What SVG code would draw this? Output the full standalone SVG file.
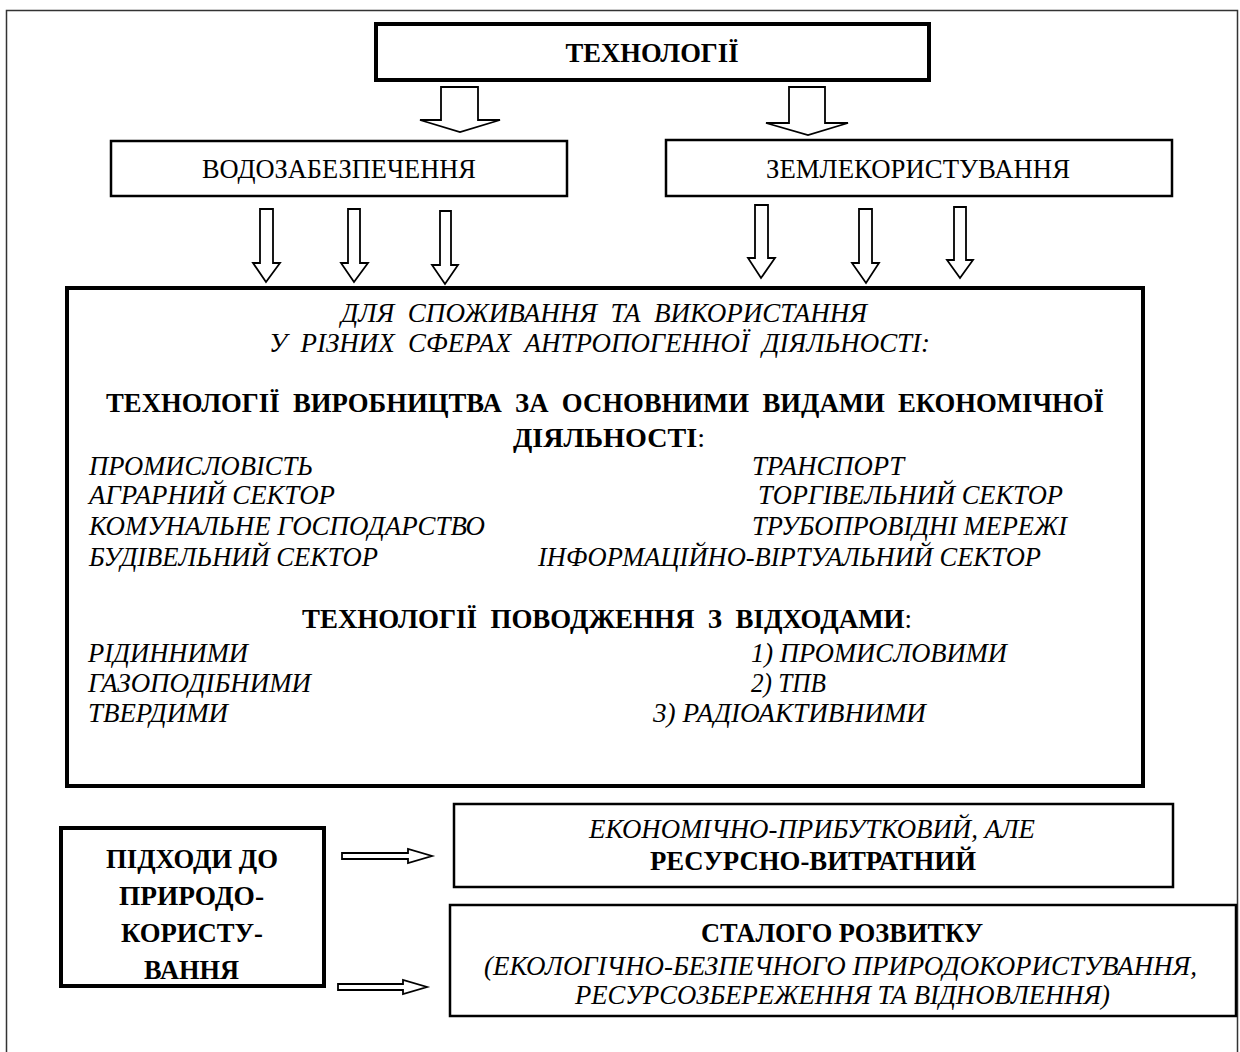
<svg xmlns="http://www.w3.org/2000/svg" width="1240" height="1052" viewBox="0 0 1240 1052">
<style>
text{font-family:"Liberation Serif","Times New Roman",serif;fill:#000;font-size:27px}
.b{font-weight:bold}
.i{font-style:italic}
.m{text-anchor:middle}
.thick{fill:#fff;stroke:#000;stroke-width:4}
.thin{fill:#fff;stroke:#000;stroke-width:2.5}
.arr{fill:#fff;stroke:#000;stroke-width:1.8;stroke-linejoin:miter}
</style>
<rect width="1240" height="1052" fill="#fff"/>
<path d="M6.5,1052 V10.5 H1237.5 V1052" fill="none" stroke="#333" stroke-width="1.5"/>
<g id="n-tech">
<rect class="thick" x="376" y="24" width="553" height="56"/>
<text class="b m" x="652" y="62" textLength="173" lengthAdjust="spacingAndGlyphs">ТЕХНОЛОГІЇ</text>
</g>
<g id="n-water">
<rect class="thin" x="111" y="141" width="456" height="55"/>
<text class="m" x="339" y="178" textLength="274" lengthAdjust="spacingAndGlyphs">ВОДОЗАБЕЗПЕЧЕННЯ</text>
</g>
<g id="n-land">
<rect class="thin" x="666" y="140" width="506" height="56"/>
<text class="m" x="918" y="178" textLength="304" lengthAdjust="spacingAndGlyphs">ЗЕМЛЕКОРИСТУВАННЯ</text>
</g>
<g id="n-main">
<rect class="thick" x="67" y="288" width="1076" height="498"/>
<text class="i m" x="604" y="322" xml:space="preserve" textLength="526" lengthAdjust="spacingAndGlyphs">ДЛЯ  СПОЖИВАННЯ  ТА  ВИКОРИСТАННЯ</text>
<text class="i" x="269" y="352" xml:space="preserve" textLength="661" lengthAdjust="spacingAndGlyphs">У  РІЗНИХ  СФЕРАХ  АНТРОПОГЕННОЇ  ДІЯЛЬНОСТІ:</text>
<text class="b" x="106" y="412" xml:space="preserve" textLength="998" lengthAdjust="spacingAndGlyphs">ТЕХНОЛОГІЇ  ВИРОБНИЦТВА  ЗА  ОСНОВНИМИ  ВИДАМИ  ЕКОНОМІЧНОЇ</text>
<text x="513" y="447" textLength="192" lengthAdjust="spacingAndGlyphs"><tspan class="b">ДІЯЛЬНОСТІ</tspan>:</text>
<text class="i" x="89" y="475" textLength="224" lengthAdjust="spacingAndGlyphs">ПРОМИСЛОВІСТЬ</text>
<text class="i" x="89" y="504" textLength="246" lengthAdjust="spacingAndGlyphs">АГРАРНИЙ СЕКТОР</text>
<text class="i" x="89" y="535" textLength="396" lengthAdjust="spacingAndGlyphs">КОМУНАЛЬНЕ ГОСПОДАРСТВО</text>
<text class="i" x="89" y="566" textLength="289" lengthAdjust="spacingAndGlyphs">БУДІВЕЛЬНИЙ СЕКТОР</text>
<text class="i" x="752" y="475" textLength="152" lengthAdjust="spacingAndGlyphs">ТРАНСПОРТ</text>
<text class="i" x="758" y="504" textLength="305" lengthAdjust="spacingAndGlyphs">ТОРГІВЕЛЬНИЙ СЕКТОР</text>
<text class="i" x="752" y="535" textLength="315" lengthAdjust="spacingAndGlyphs">ТРУБОПРОВІДНІ МЕРЕЖІ</text>
<text class="i" x="538" y="566" textLength="503" lengthAdjust="spacingAndGlyphs">ІНФОРМАЦІЙНО-ВІРТУАЛЬНИЙ СЕКТОР</text>
<text x="302" y="628" xml:space="preserve" textLength="610" lengthAdjust="spacingAndGlyphs"><tspan class="b">ТЕХНОЛОГІЇ  ПОВОДЖЕННЯ  З  ВІДХОДАМИ</tspan>:</text>
<text class="i" x="88" y="662" textLength="160" lengthAdjust="spacingAndGlyphs">РІДИННИМИ</text>
<text class="i" x="88" y="692" textLength="223" lengthAdjust="spacingAndGlyphs">ГАЗОПОДІБНИМИ</text>
<text class="i" x="88" y="722" textLength="140" lengthAdjust="spacingAndGlyphs">ТВЕРДИМИ</text>
<text class="i" x="751" y="662" textLength="256" lengthAdjust="spacingAndGlyphs">1) ПРОМИСЛОВИМИ</text>
<text class="i" x="751" y="692" textLength="75" lengthAdjust="spacingAndGlyphs">2) ТПВ</text>
<text class="i" x="653" y="722" textLength="273" lengthAdjust="spacingAndGlyphs">3) РАДІОАКТИВНИМИ</text>
</g>
<g id="n-approach">
<rect class="thick" x="61" y="828" width="263" height="158"/>
<text class="b m" x="192" y="868" textLength="172" lengthAdjust="spacingAndGlyphs">ПІДХОДИ ДО</text>
<text class="b m" x="191.5" y="905" textLength="145" lengthAdjust="spacingAndGlyphs">ПРИРОДО-</text>
<text class="b m" x="192" y="942" textLength="142" lengthAdjust="spacingAndGlyphs">КОРИСТУ-</text>
<text class="b m" x="191.5" y="979" textLength="95" lengthAdjust="spacingAndGlyphs">ВАННЯ</text>
</g>
<g id="n-econ">
<rect class="thin" x="454" y="804" width="719" height="83"/>
<text class="i m" x="812" y="838" textLength="446" lengthAdjust="spacingAndGlyphs">ЕКОНОМІЧНО-ПРИБУТКОВИЙ, АЛЕ</text>
<text class="b m" x="813" y="870" textLength="326" lengthAdjust="spacingAndGlyphs">РЕСУРСНО-ВИТРАТНИЙ</text>
</g>
<g id="n-sustain">
<rect class="thin" x="450" y="905" width="786" height="111"/>
<text class="b m" x="842" y="942" textLength="282" lengthAdjust="spacingAndGlyphs">СТАЛОГО РОЗВИТКУ</text>
<text class="i m" x="840.5" y="975" textLength="713" lengthAdjust="spacingAndGlyphs">(ЕКОЛОГІЧНО-БЕЗПЕЧНОГО ПРИРОДОКОРИСТУВАННЯ,</text>
<text class="i m" x="842.5" y="1004" textLength="535" lengthAdjust="spacingAndGlyphs">РЕСУРСОЗБЕРЕЖЕННЯ ТА ВІДНОВЛЕННЯ)</text>
</g>
<g id="connectors">
<path class="arr" d="M441,87 H478 V120 H500 L460,132 L420,120 H441 Z"/>
<path class="arr" d="M789,87 H825 V123 H848 L808,135 L766,123 H789 Z"/>
<path class="arr" d="M260,209 H273 V263 H280 L266,282 L253,263 H260 Z"/>
<path class="arr" d="M348,209 H360 V263 H368 L354,282 L341,263 H348 Z"/>
<path class="arr" d="M440,211 H451 V265 H458 L445,284 L432,265 H440 Z"/>
<path class="arr" d="M755,205 H768 V258 H775 L761,278 L748,258 H755 Z"/>
<path class="arr" d="M859,209 H872 V263 H879 L866,283 L852,263 H859 Z"/>
<path class="arr" d="M954,207 H966 V260 H973 L960,278 L947,260 H954 Z"/>
<path class="arr" d="M342,853 H408 V849 L432,856 L408,863 V859 H342 Z"/>
<path class="arr" d="M338,984 H403 V980 L427,987 L403,994 V990 H338 Z"/>
</g>
</svg>
